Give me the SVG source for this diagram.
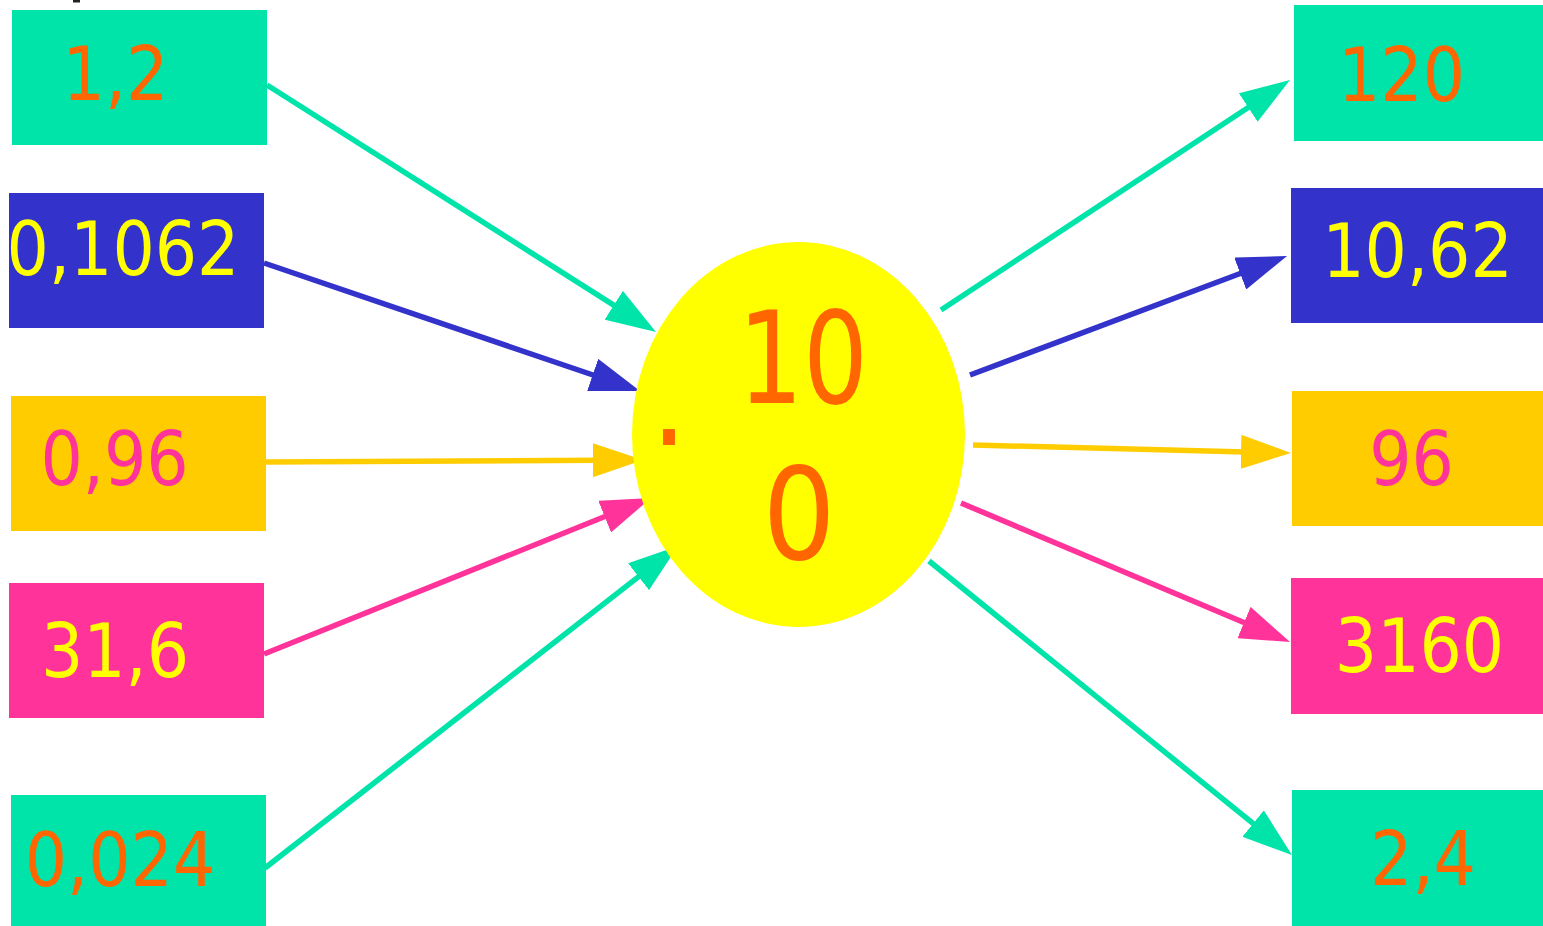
<svg xmlns="http://www.w3.org/2000/svg" width="1543" height="926" viewBox="0 0 1543 926">
<style>
.box{stroke:none}
.g{fill:#00e4aa}.b{fill:#3333cc}.y{fill:#ffcc00}.p{fill:#ff3399}
.t{font-family:"DejaVu Sans Condensed","DejaVu Sans",sans-serif;font-stretch:condensed;font-size:74px;text-anchor:middle}
.to{fill:#ff6600}.ty{fill:#ffff00}.tp{fill:#ff3399}
.c{fill:none;stroke-width:5.5}
.cg{stroke:#00e4aa}.cb{stroke:#3333cc}.cy{stroke:#ffcc00}.cp{stroke:#ff3399}
</style>
<defs>
<marker id="mg" viewBox="0 0 50 34" refX="5" refY="17" markerWidth="50" markerHeight="34" markerUnits="userSpaceOnUse" orient="auto"><path d="M0,0 L50,17 L0,34 z" fill="#00e4aa"/></marker>
<marker id="mb" viewBox="0 0 50 34" refX="5" refY="17" markerWidth="50" markerHeight="34" markerUnits="userSpaceOnUse" orient="auto"><path d="M0,0 L50,17 L0,34 z" fill="#3333cc"/></marker>
<marker id="my" viewBox="0 0 50 34" refX="5" refY="17" markerWidth="50" markerHeight="34" markerUnits="userSpaceOnUse" orient="auto"><path d="M0,0 L50,17 L0,34 z" fill="#ffcc00"/></marker>
<marker id="mp" viewBox="0 0 50 34" refX="5" refY="17" markerWidth="50" markerHeight="34" markerUnits="userSpaceOnUse" orient="auto"><path d="M0,0 L50,17 L0,34 z" fill="#ff3399"/></marker>
</defs>
<rect width="1543" height="926" fill="#ffffff"/>
<rect x="73" y="0" width="7" height="2.5" fill="#222"/>
<g id="connectors">
<line class="c cg" x1="267" y1="85" x2="618" y2="307.9" marker-end="url(#mg)"/>
<line class="c cb" x1="264" y1="263" x2="597.4" y2="376.5" marker-end="url(#mb)"/>
<line class="c cy" x1="265" y1="462" x2="598" y2="460.2" marker-end="url(#my)"/>
<line class="c cp" x1="264" y1="654" x2="609.3" y2="514.8" marker-end="url(#mp)"/>
<line class="c cg" x1="265" y1="868" x2="642.5" y2="573.7" marker-end="url(#mg)"/>
<line class="c cg" x1="941" y1="310" x2="1252.4" y2="104.8" marker-end="url(#mg)"/>
<line class="c cb" x1="970" y1="375" x2="1244.9" y2="271.8" marker-end="url(#mb)"/>
<line class="c cy" x1="973" y1="445" x2="1246" y2="451.9" marker-end="url(#my)"/>
<line class="c cp" x1="961" y1="503" x2="1248.6" y2="624.5" marker-end="url(#mp)"/>
<line class="c cg" x1="929" y1="561" x2="1257" y2="826.7" marker-end="url(#mg)"/>
</g>
<g id="center">
<ellipse cx="798.5" cy="434.5" rx="166.5" ry="192.5" fill="#ffff00"/>
<text class="t to" x="803" y="403" style="font-size:128px" textLength="130" lengthAdjust="spacingAndGlyphs">10</text>
<text class="t to" x="799" y="559" style="font-size:128px">0</text>
<text class="t to" x="669" y="445" style="font-size:128px">.</text>
</g>
<g id="in1"><rect class="box g" x="12" y="10" width="255" height="135"/><text class="t to" x="115.5" y="100">1,2</text></g>
<g id="in2"><rect class="box b" x="9" y="193" width="255" height="135"/><text class="t ty" x="123" y="275">0,1062</text></g>
<g id="in3"><rect class="box y" x="11" y="396" width="255" height="135"/><text class="t tp" x="114.5" y="485">0,96</text></g>
<g id="in4"><rect class="box p" x="9" y="583" width="255" height="135"/><text class="t ty" x="115" y="677">31,6</text></g>
<g id="in5"><rect class="box g" x="11" y="795" width="255" height="131"/><text class="t to" x="120" y="886">0,024</text></g>
<g id="out1"><rect class="box g" x="1294" y="5" width="249" height="136"/><text class="t to" x="1401.5" y="101">120</text></g>
<g id="out2"><rect class="box b" x="1291" y="188" width="252" height="135"/><text class="t ty" x="1417.5" y="277">10,62</text></g>
<g id="out3"><rect class="box y" x="1292" y="391" width="251" height="135"/><text class="t tp" x="1411.5" y="485">96</text></g>
<g id="out4"><rect class="box p" x="1291" y="578" width="252" height="136"/><text class="t ty" x="1419.5" y="672">3160</text></g>
<g id="out5"><rect class="box g" x="1292" y="790" width="251" height="136"/><text class="t to" x="1423" y="885">2,4</text></g>
</svg>
